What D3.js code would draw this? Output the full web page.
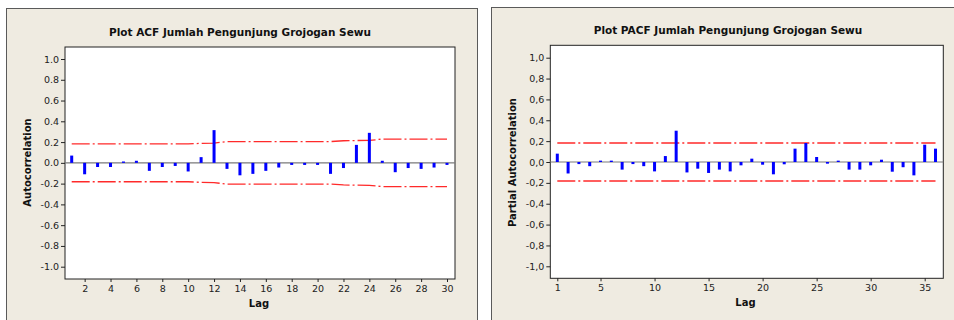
<!DOCTYPE html>
<html>
<head>
<meta charset="utf-8">
<script src="https://cdn.jsdelivr.net/npm/d3@7"></script>
<style>
  html, body { margin: 0; padding: 0; background: #ffffff; }
  svg { display: block; }
</style>
</head>
<body>
<svg id="chart" width="954" height="320"></svg>
<script>
// ---------- DATA ----------
const acfLags = d3.range(1, 31);
const acfValues = [0.07, -0.11, -0.04, -0.04, 0.013, 0.02, -0.077, -0.04, -0.03, -0.083,
                   0.055, 0.315, -0.058, -0.12, -0.106, -0.077, -0.045, -0.02, -0.02, -0.02,
                   -0.106, -0.05, 0.173, 0.289, 0.02, -0.09, -0.05, -0.058, -0.045, -0.02];
const acfLimits = [0.182, 0.182, 0.182, 0.182, 0.182, 0.182, 0.182, 0.182, 0.182, 0.182,
                   0.188, 0.19, 0.205, 0.205, 0.205, 0.205, 0.205, 0.205, 0.205, 0.205,
                   0.205, 0.213, 0.215, 0.216, 0.229, 0.229, 0.229, 0.229, 0.229, 0.229];
const acfYTicks = [1.0, 0.8, 0.6, 0.4, 0.2, 0.0, -0.2, -0.4, -0.6, -0.8, -1.0];
const acfXTicks = [2, 4, 6, 8, 10, 12, 14, 16, 18, 20, 22, 24, 26, 28, 30];

const pacfLags = d3.range(1, 37);
const pacfValues = [0.08, -0.11, -0.02, -0.04, 0.013, 0.013, -0.073, -0.02, -0.04, -0.09,
                    0.057, 0.30, -0.10, -0.064, -0.105, -0.073, -0.09, -0.032, 0.032, -0.026,
                    -0.118, -0.022, 0.128, 0.182, 0.048, -0.016, 0.013, -0.073, -0.073, -0.032,
                    0.022, -0.093, -0.05, -0.128, 0.166, 0.128];
const pacfLimit = 0.182;
const pacfYTicks = [1.0, 0.8, 0.6, 0.4, 0.2, 0.0, -0.2, -0.4, -0.6, -0.8, -1.0];
const pacfXTicks = [1, 5, 10, 15, 20, 25, 30, 35];

// ---------- DRAW ----------
const svg = d3.select("#chart");
const tickFont = "'DejaVu Sans', Verdana, sans-serif";

function panel(cfg) {
  const g = svg.append("g");
  // panel background
  g.append("rect")
    .attr("x", cfg.panel[0]).attr("y", cfg.panel[1])
    .attr("width", cfg.panel[2]).attr("height", cfg.panel[3])
    .attr("fill", "#efebe1").attr("stroke", "#5a5a5a").attr("stroke-width", 1);

  const x = d3.scaleLinear().domain(cfg.xDomain).range(cfg.xRange);
  const y = d3.scaleLinear().domain([-1, 1]).range(cfg.yRange);

  // plot area
  g.append("rect")
    .attr("x", cfg.plot[0]).attr("y", cfg.plot[1])
    .attr("width", cfg.plot[2]).attr("height", cfg.plot[3])
    .attr("fill", "#ffffff").attr("stroke", "#222").attr("stroke-width", 1);

  // title
  g.append("text")
    .attr("x", cfg.titlePos[0]).attr("y", cfg.titlePos[1])
    .attr("text-anchor", "middle")
    .attr("font-family", tickFont).attr("font-weight", "bold").attr("font-size", 10.5)
    .attr("fill", "#111")
    .text(cfg.title);

  // y axis
  const yAxis = d3.axisLeft(y).tickValues(cfg.yTicks).tickSize(4).tickPadding(2)
    .tickFormat(d => cfg.fmt(d));
  const ya = g.append("g").attr("transform", `translate(${cfg.plot[0]},0)`).call(yAxis);
  ya.select(".domain").remove();
  ya.selectAll("line").attr("stroke", "#222");
  ya.selectAll("text").attr("font-family", tickFont).attr("font-size", 9.5).attr("fill", "#222");

  // x axis
  const xAxis = d3.axisBottom(x).tickValues(cfg.xTicks).tickSize(3).tickPadding(3)
    .tickFormat(d3.format("d"));
  const xa = g.append("g").attr("transform", `translate(0,${cfg.plot[1] + cfg.plot[3]})`).call(xAxis);
  xa.select(".domain").remove();
  xa.selectAll("line").attr("stroke", "#222");
  xa.selectAll("text").attr("font-family", tickFont).attr("font-size", 9.5).attr("fill", "#222");

  // axis labels
  g.append("text")
    .attr("transform", `translate(${cfg.yLabelPos[0]},${cfg.yLabelPos[1]}) rotate(-90)`)
    .attr("text-anchor", "middle")
    .attr("font-family", tickFont).attr("font-weight", "bold").attr("font-size", 10)
    .attr("fill", "#111")
    .text(cfg.yLabel);
  g.append("text")
    .attr("x", cfg.xLabelPos[0]).attr("y", cfg.xLabelPos[1])
    .attr("text-anchor", "middle")
    .attr("font-family", tickFont).attr("font-weight", "bold").attr("font-size", 10)
    .attr("fill", "#111")
    .text("Lag");

  // zero line
  g.append("line")
    .attr("x1", cfg.plot[0]).attr("x2", cfg.plot[0] + cfg.plot[2])
    .attr("y1", y(0)).attr("y2", y(0))
    .attr("stroke", "#7a7a7a").attr("stroke-width", 1.2);

  // confidence limits
  const lim = cfg.lags.map((l, i) => ({ lag: l, v: cfg.limits[i] }));
  const up = d3.line().x(d => x(d.lag)).y(d => y(d.v));
  const lo = d3.line().x(d => x(d.lag)).y(d => y(-d.v));
  [up, lo].forEach(gen => {
    g.append("path").datum(lim).attr("d", gen)
      .attr("fill", "none").attr("stroke", "#ff2a2a").attr("stroke-width", 1.3)
      .attr("stroke-dasharray", "18,3,2,3");
  });

  // bars
  const data = cfg.lags.map((l, i) => ({ lag: l, v: cfg.values[i] }));
  g.selectAll("rect.bar").data(data).enter().append("rect")
    .attr("class", "bar")
    .attr("x", d => x(d.lag) - 1.5)
    .attr("width", 3)
    .attr("y", d => Math.min(y(0), y(d.v)))
    .attr("height", d => Math.abs(y(d.v) - y(0)))
    .attr("fill", "#0000ff");
}

panel({
  panel: [6.5, 8.5, 471, 330],
  plot: [65, 47, 390, 232],
  xDomain: [1, 30], xRange: [71.7, 447],
  yRange: [266.7, 59],
  title: "Plot ACF Jumlah Pengunjung Grojogan Sewu",
  titlePos: [240, 35.5],
  yLabel: "Autocorrelation",
  yLabelPos: [31, 162.5],
  xLabelPos: [259, 307],
  yTicks: acfYTicks, xTicks: acfXTicks,
  fmt: d => d.toFixed(1),
  lags: acfLags, values: acfValues, limits: acfLimits
});

panel({
  panel: [491.5, 7.5, 480, 330],
  plot: [550.3, 45.3, 393, 233],
  xDomain: [1, 35], xRange: [557.3, 924.7],
  yRange: [266.3, 57.7],
  title: "Plot PACF Jumlah Pengunjung Grojogan Sewu",
  titlePos: [728, 33.5],
  yLabel: "Partial Autocorrelation",
  yLabelPos: [516, 162.5],
  xLabelPos: [745.5, 306],
  yTicks: pacfYTicks, xTicks: pacfXTicks,
  fmt: d => d.toFixed(1).replace(".", ","),
  lags: pacfLags, values: pacfValues, limits: pacfLags.map(() => pacfLimit)
});
</script>
</body>
</html>
